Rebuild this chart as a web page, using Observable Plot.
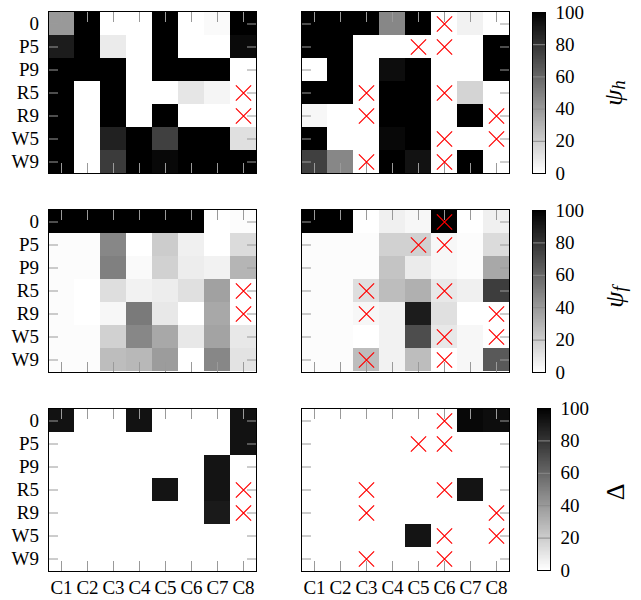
<!DOCTYPE html>
<html><head><meta charset="utf-8">
<script src="https://cdn.jsdelivr.net/npm/d3@7"></script>
<script src="https://cdn.jsdelivr.net/npm/@observablehq/plot@0.6"></script>
<style>
body{margin:0;background:#fff;}
#chart{position:relative;width:641px;height:600px;background:#fff;font-family:"Liberation Serif",serif;overflow:hidden;}
#chart > div{position:absolute;}
</style></head><body><div id="chart"></div>
<script>
// categories
const rows = ["0","P5","P9","R5","R9","W5","W9"];
const cols = ["C1","C2","C3","C4","C5","C6","C7","C8"];
const cbTicks = [0,20,40,60,80,100];
const cbInner = [20,40,60,80];

// ψ_h values (rows × columns)
const psiH_left = [
  [40,100,0,0,100,0,2,100],
  [89,100,8,0,100,0,0,96],
  [100,100,100,0,100,100,100,0],
  [100,0,100,0,0,10,4,0],
  [100,0,100,0,100,0,0,0],
  [100,0,87,100,75,100,100,12],
  [100,0,77,100,97,100,100,100]
];
const psiH_right = [
  [100,100,100,47,100,0,5,0],
  [100,100,0,0,0,0,0,100],
  [0,100,0,95,100,0,0,100],
  [100,100,0,100,100,0,17,0],
  [3,0,0,100,100,0,100,0],
  [100,0,0,97,100,0,0,0],
  [75,47,0,100,93,0,100,0]
];
// ψ_f values
const psiF_left = [
  [100,100,100,100,100,100,0,1],
  [1,1,47,0,20,6,0,14],
  [1,1,50,2,18,7,5,29],
  [1,0,13,5,7,12,37,0],
  [1,0,3,52,9,0,34,0],
  [1,1,18,47,34,9,36,9],
  [1,1,26,28,39,0,47,11]
];
const psiF_right = [
  [100,100,0,6,3,100,0,6],
  [1,1,1,18,18,3,1,14],
  [1,1,1,23,8,3,1,34],
  [1,1,13,26,31,9,6,76],
  [1,1,3,5,89,12,0,0],
  [1,1,0,5,70,9,3,0],
  [1,1,26,5,26,0,3,65]
];
// Δ values
const delta_left = [
  [93,0,0,93,0,0,0,93],
  [0,0,0,0,0,0,0,93],
  [0,0,0,0,0,0,92,0],
  [0,0,0,0,92,0,92,0],
  [0,0,0,0,0,0,90,0],
  [0,0,0,0,0,0,0,0],
  [0,0,0,0,0,0,0,0]
];
const delta_right = [
  [0,0,0,0,0,0,97,95],
  [0,0,0,0,0,0,0,0],
  [0,0,0,0,0,0,0,0],
  [0,0,0,0,0,0,92,0],
  [0,0,0,0,0,0,0,0],
  [0,0,0,0,92,0,0,0],
  [0,0,0,0,0,0,0,0]
];
// red crosses [row, column]
const crosses_left = [["R5","C8"],["R9","C8"]];
const crosses_right = [["0","C6"],["P5","C5"],["P5","C6"],["R5","C3"],["R5","C6"],["R9","C3"],["R9","C8"],["W5","C6"],["W5","C8"],["W9","C3"],["W9","C6"]];

const colorScale = {type:"linear", domain:[0,100], range:["white","black"], interpolate:"rgb"};
const FONT = "Liberation Serif";
const chart = document.getElementById("chart");

function place(node, left, top){
  const d = document.createElement("div");
  d.style.left = left + "px"; d.style.top = top + "px";
  d.appendChild(node); chart.appendChild(d);
}

const rowLayout = [
  {top:0,   mt:11, ph:162, mb:10, cbLeft:12, cbMt:12, cbPh:161, cbH:190, label:"h", lx:93, ly:93},
  {top:198, mt:11, ph:163, mb:10, cbLeft:12, cbMt:12, cbPh:162, cbH:190, label:"f", lx:94, ly:99},
  {top:397, mt:11, ph:163, mb:29, cbLeft:17, cbMt:11, cbPh:162, cbH:203, label:"D", lx:95, ly:95}
];

function heatmap(matrix, crosses, side, ri){
  const L = rowLayout[ri];
  const data = [];
  matrix.forEach((r,i)=>r.forEach((v,j)=>data.push({row:rows[i], col:cols[j], v})));
  const left = side === 0;
  const marks = [
    Plot.cell(data, {x:"col", y:"row", fill:"v", inset:0, shapeRendering:"crispEdges"}),
    Plot.axisX({anchor:"bottom", tickSize:-10, stroke:"#9a9a9a", fill:"none", label:null}),
    Plot.axisX({anchor:"top", tickSize:-10, stroke:"#9a9a9a", fill:"none", label:null}),
    Plot.axisY({anchor:"left", tickSize:-10, stroke:"#9a9a9a", fill:"none", label:null}),
    Plot.axisY({anchor:"right", tickSize:-10, stroke:"#9a9a9a", fill:"none", label:null})
  ];
  if (left) marks.push(Plot.axisY({anchor:"left", tickSize:0, tickPadding:9.5, fontSize:19, fill:"black", label:null}));
  if (ri === 2) marks.push(Plot.axisX({anchor:"bottom", tickSize:0, tickPadding:9, fontSize:19, fill:"black", label:null}));
  marks.push(Plot.dot(crosses, {x:d=>d[1], y:d=>d[0], symbol:"times", r:7, stroke:"red", strokeWidth:1.2}));
  marks.push(Plot.frame({stroke:"black"}));
  const ml = left ? 48 : 11;
  const svg = Plot.plot({
    width: ml + 208 + 4,
    height: L.mt + L.ph + L.mb,
    marginLeft: ml, marginRight: 4, marginTop: L.mt, marginBottom: L.mb,
    style: {fontFamily: FONT, background: "transparent", color: "black"},
    x: {type:"band", domain: cols, padding:0},
    y: {type:"band", domain: rows, padding:0},
    color: colorScale,
    marks
  });
  place(svg, left ? 0 : 290, L.top);
}

function colorbar(ri){
  const L = rowLayout[ri];
  const slices = d3.range(0, 100, 0.5).map(v=>({y1:v, y2:v+0.5}));
  const svg = Plot.plot({
    width: 121, height: L.cbH,
    marginLeft: L.cbLeft, marginRight: 121 - L.cbLeft - 13,
    marginTop: L.cbMt, marginBottom: L.cbH - L.cbMt - L.cbPh,
    style: {fontFamily: FONT, background: "transparent", color: "black"},
    x: {domain:[0,1], axis:null},
    y: {domain:[0,100]},
    color: colorScale,
    marks: [
      Plot.rect(slices, {x1:0, x2:1, y1:"y1", y2:"y2", fill:d=>d.y1+0.25, shapeRendering:"crispEdges"}),
      Plot.ruleY(cbInner, {stroke:"#8a8a8a"}),
      Plot.axisY(cbTicks, {anchor:"right", tickSize:0, tickPadding:10, fontSize:19, fill:"black", label:null}),
      Plot.frame({stroke:"black"})
    ]
  });
  const t = d3.select(svg).append("text")
    .attr("transform", `translate(${L.lx},${L.ly}) rotate(-90)`)
    .attr("text-anchor", "middle")
    .attr("dominant-baseline", "central")
    .attr("font-family", FONT)
    .attr("fill", "black");
  if (L.label === "D") {
    t.attr("font-size", 26).text("Δ");
  } else {
    t.append("tspan").attr("font-size", 26).attr("font-style", "italic").text("ψ");
    t.append("tspan").attr("font-size", 19).attr("font-style", "italic").attr("dy", 5).text(L.label);
  }
  place(svg, 520, L.top);
}

heatmap(psiH_left, crosses_left, 0, 0);
heatmap(psiH_right, crosses_right, 1, 0);
heatmap(psiF_left, crosses_left, 0, 1);
heatmap(psiF_right, crosses_right, 1, 1);
heatmap(delta_left, crosses_left, 0, 2);
heatmap(delta_right, crosses_right, 1, 2);
colorbar(0); colorbar(1); colorbar(2);
</script></body></html>
